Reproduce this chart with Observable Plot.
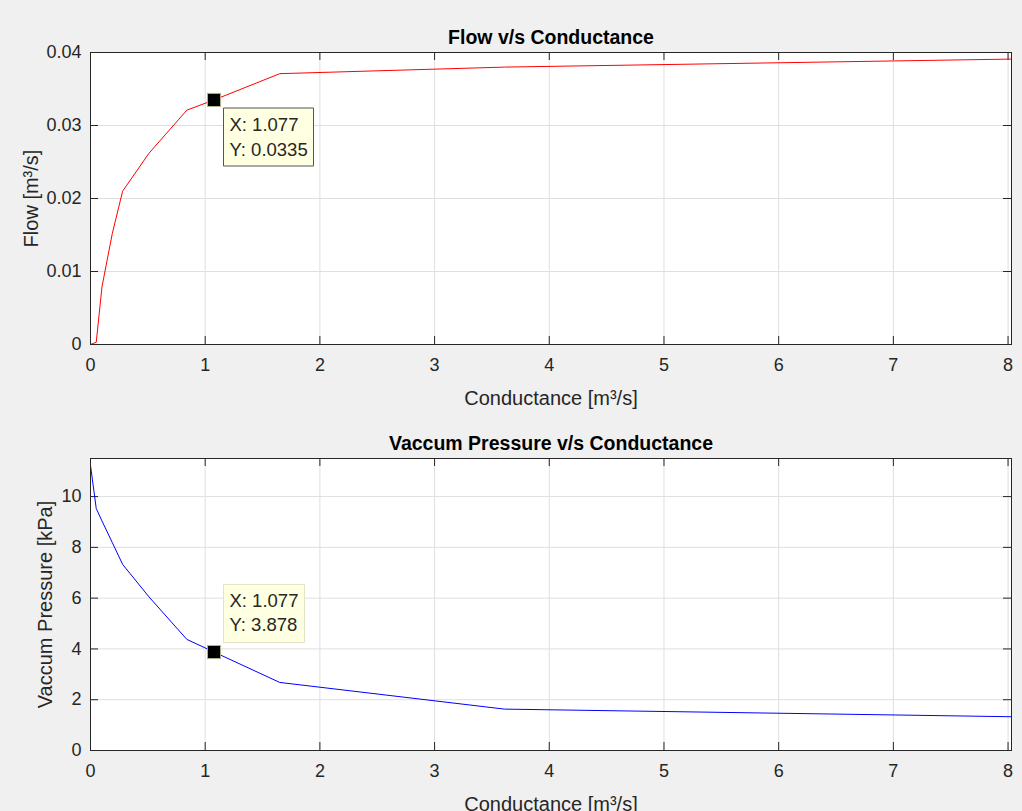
<!DOCTYPE html>
<html>
<head>
<meta charset="utf-8">
<script src="https://cdn.jsdelivr.net/npm/d3@7"></script>
<script src="https://cdn.jsdelivr.net/npm/@observablehq/plot@0.6"></script>
<style>
  html, body { margin: 0; padding: 0; background: #f0f0f0; }
  #chart { width: 1022px; height: 811px; overflow: hidden; }
  #chart svg { display: block; }
</style>
</head>
<body>
<div id="chart"></div>
<script>
// ---- data ----
const conductance = [0, 0.05, 0.1, 0.19, 0.28, 0.51, 0.84, 1.077, 1.65, 3.61, 8.03];
const flow        = [0, 0.0003, 0.0079, 0.0152, 0.021, 0.0262, 0.0321, 0.0335, 0.0371, 0.0380, 0.0391];
const pressure    = [11.23, 9.53, 9.04, 8.19, 7.33, 6.05, 4.375, 3.878, 2.68, 1.63, 1.33];

const xTicks = [0, 1, 2, 3, 4, 5, 6, 7, 8];
const flowTicks = [0, 0.01, 0.02, 0.03, 0.04];
const pressureTicks = [0, 2, 4, 6, 8, 10];

const tipX = 1.077;
const tipFlow = 0.0335;
const tipPressure = 3.878;

const titles = ["Flow v/s Conductance", "Vaccum Pressure v/s Conductance"];
const xLabel = "Conductance [m³/s]";
const yLabels = ["Flow [m³/s]", "Vaccum Pressure [kPa]"];

// ---- drawing ----
const W = 1022;
const FONT = "'Liberation Sans', Arial, Helvetica, sans-serif";
const INK = "#262626";
const fmt = d => `${d}`;

function panel({values, yDomain, yTicks, color, title, ylabel, ylabelDx, height, marginTop, marginBottom, tipY, tipAnchor, tipDy, tipStroke}) {
  const data = conductance.map((c, i) => ({x: c, y: values[i]}));
  const H = height - marginTop - marginBottom;
  const tipDatum = [{x: tipX, y: tipY}];
  return Plot.plot({
    width: W,
    height,
    marginLeft: 90,
    marginRight: 11,
    marginTop,
    marginBottom,
    style: {fontFamily: FONT, background: "transparent", color: INK, overflow: "visible"},
    x: {domain: [0, 8.03]},
    y: {domain: yDomain},
    marks: [
      Plot.frame({fill: "white", stroke: null}),
      Plot.gridX(xTicks, {stroke: "#dfdfdf", strokeOpacity: 1}),
      Plot.gridY(yTicks, {stroke: "#dfdfdf", strokeOpacity: 1}),
      // inward ticks on all four sides
      Plot.tickX(xTicks, {x: d => d, insetTop: H - 8, stroke: INK}),
      Plot.tickX(xTicks, {x: d => d, insetBottom: H - 8, stroke: INK}),
      Plot.tickY(yTicks, {y: d => d, insetRight: (W - 101) - 8, stroke: INK}),
      Plot.tickY(yTicks, {y: d => d, insetLeft: (W - 101) - 8, stroke: INK}),
      Plot.line(data, {x: "x", y: "y", stroke: color, strokeWidth: 1}),
      Plot.frame({stroke: INK, strokeWidth: 1}),
      Plot.axisX(xTicks, {tickSize: 0, tickPadding: 14, label: null, fontSize: 18, color: INK, tickFormat: fmt}),
      Plot.axisY(yTicks, {tickSize: 0, tickPadding: 9, label: null, fontSize: 18, color: INK, tickFormat: fmt}),
      Plot.text([title], {frameAnchor: "top", lineAnchor: "middle", textAnchor: "middle", dy: -15, fontSize: 19.5, fontWeight: "bold", fill: "#000"}),
      Plot.text([xLabel], {frameAnchor: "bottom", lineAnchor: "middle", textAnchor: "middle", dy: 54, fontSize: 20, fill: INK}),
      Plot.text([ylabel], {frameAnchor: "left", lineAnchor: "middle", textAnchor: "middle", dx: ylabelDx, rotate: -90, fontSize: 20, fill: INK}),
      Plot.dot(tipDatum, {x: "x", y: "y", symbol: "square", r: 7.4, fill: "#000", stroke: "#b3b38a", strokeWidth: 1}),
      Plot.tip(tipDatum, {
        x: "x", y: "y",
        title: d => `X: ${d.x}\nY: ${d.y}`,
        anchor: tipAnchor,
        pointerSize: 0,
        dx: 9, dy: tipDy,
        fill: "#ffffe1",
        stroke: tipStroke,
        pathFilter: "none",
        textPadding: 6,
        fontSize: 18.5,
        lineHeight: 1.33
      })
    ]
  });
}

const chart = document.getElementById("chart");
chart.append(panel({
  values: flow, yDomain: [0, 0.04], yTicks: flowTicks, color: "#ff0000",
  title: titles[0], ylabel: yLabels[0], ylabelDx: -59,
  height: 405, marginTop: 52, marginBottom: 61,
  tipY: tipFlow, tipAnchor: "top-left", tipDy: 8.5, tipStroke: "#555555"
}));
chart.append(panel({
  values: pressure, yDomain: [0, 11.5], yTicks: pressureTicks, color: "#0000ff",
  title: titles[1], ylabel: yLabels[1], ylabelDx: -45,
  height: 406, marginTop: 53, marginBottom: 61,
  tipY: tipPressure, tipAnchor: "bottom-left", tipDy: -10, tipStroke: "#e3e3c6"
}));
</script>
</body>
</html>
